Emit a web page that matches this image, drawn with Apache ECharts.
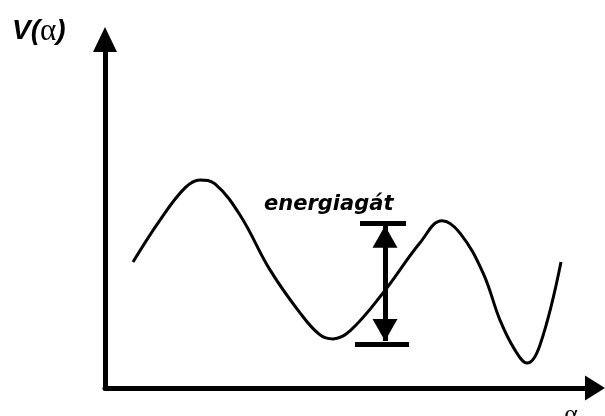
<!DOCTYPE html>
<html>
<head>
<meta charset="utf-8">
<script src="https://cdn.jsdelivr.net/npm/echarts@6/dist/echarts.min.js"></script>
<style>
  html, body { margin: 0; padding: 0; background: #fff; }
  #chart { width: 605px; height: 416px; }
</style>
</head>
<body>
<div id="chart"></div>
<script>
// curve (arbitrary units)
const alpha = [5.6, 11.0, 16.0, 19.0, 22.0, 27.0, 33.0, 39.0, 43.0, 45.6, 49.0, 55.6, 63.0, 67.4, 71.0, 75.6, 79.0, 82.0, 84.4, 87.0, 91.2]
const potential = [34.9, 46.5, 55.4, 57.6, 56.5, 47.9, 32.7, 20.8, 14.7, 13.6, 15.8, 26.3, 40.2, 46.3, 42.9, 31.9, 18.8, 10.5, 6.9, 11.9, 34.9]

// energy gap marker
const gapAlpha = 56
const gapLevels = [45.7, 12.2]
const gapBarsFrom = [51, 50]
const gapBarsTo = [60.2, 60.8]

const yLabel = 'V('
const xLabel = 'α'
const gapLabel = 'energiagát'

let chart = echarts.init(document.getElementById('chart'))

let axisCommon = {
    type: 'value',
    axisTick: { show: false },
    axisLabel: { show: false },
    splitLine: { show: false },
    axisLine: {
        show: true,
        symbol: ['none', 'triangle'],
        lineStyle: { color: '#000', width: 5 }
    }
}

let curve = alpha.map((a, i) => [a, potential[i]])

chart.setOption({
    animation: false,
    grid: { left: 105, right: 10, top: 39.5, bottom: 28 },
    xAxis: Object.assign({}, axisCommon, {
        min: 0, max: 98,
        axisLine: Object.assign({}, axisCommon.axisLine, { symbolSize: [25, 20] })
    }),
    yAxis: Object.assign({}, axisCommon, {
        min: 0, max: 96.5,
        axisLine: Object.assign({}, axisCommon.axisLine, { symbolSize: [24, 25] })
    }),
    series: [{
        type: 'line',
        data: curve,
        smooth: 0.4,
        showSymbol: false,
        lineStyle: { color: '#000', width: 3 },
        markLine: {
            silent: true,
            animation: false,
            label: { show: false },
            lineStyle: { color: '#000', width: 5, type: 'solid' },
            symbol: 'none',
            data: [
                [{ coord: [gapBarsFrom[0], gapLevels[0]] }, { coord: [gapBarsTo[0], gapLevels[0]] }],
                [{ coord: [gapBarsFrom[1], gapLevels[1]] }, { coord: [gapBarsTo[1], gapLevels[1]] }],
                [{
                    coord: [gapAlpha, gapLevels[0] - 0.8],
                    symbol: 'triangle', symbolSize: [25, 22], symbolOffset: [0, 11]
                }, {
                    coord: [gapAlpha, gapLevels[1] + 0.8],
                    symbol: 'triangle', symbolSize: [25, 22], symbolOffset: [0, 11]
                }]
            ]
        }
    }],
    graphic: [{
        type: 'text',
        left: 12, top: 16,
        style: {
            text: '{b|' + yLabel + '}{s|' + xLabel + '}{b|)}',
            rich: {
                b: { font: 'italic bold 28px "Liberation Sans"', fill: '#000' },
                s: { font: '31px "Liberation Serif"', fill: '#000' }
            }
        }
    }, {
        type: 'text',
        x: 571, y: 402,
        style: {
            text: xLabel,
            font: '26px "Liberation Serif"',
            fill: '#000',
            textAlign: 'center',
            textVerticalAlign: 'top'
        }
    }, {
        type: 'text',
        x: 264, y: 194,
        style: {
            text: gapLabel,
            font: 'italic bold 21px "DejaVu Sans"',
            fill: '#000',
            textAlign: 'left',
            textVerticalAlign: 'top'
        }
    }]
})
</script>
</body>
</html>
